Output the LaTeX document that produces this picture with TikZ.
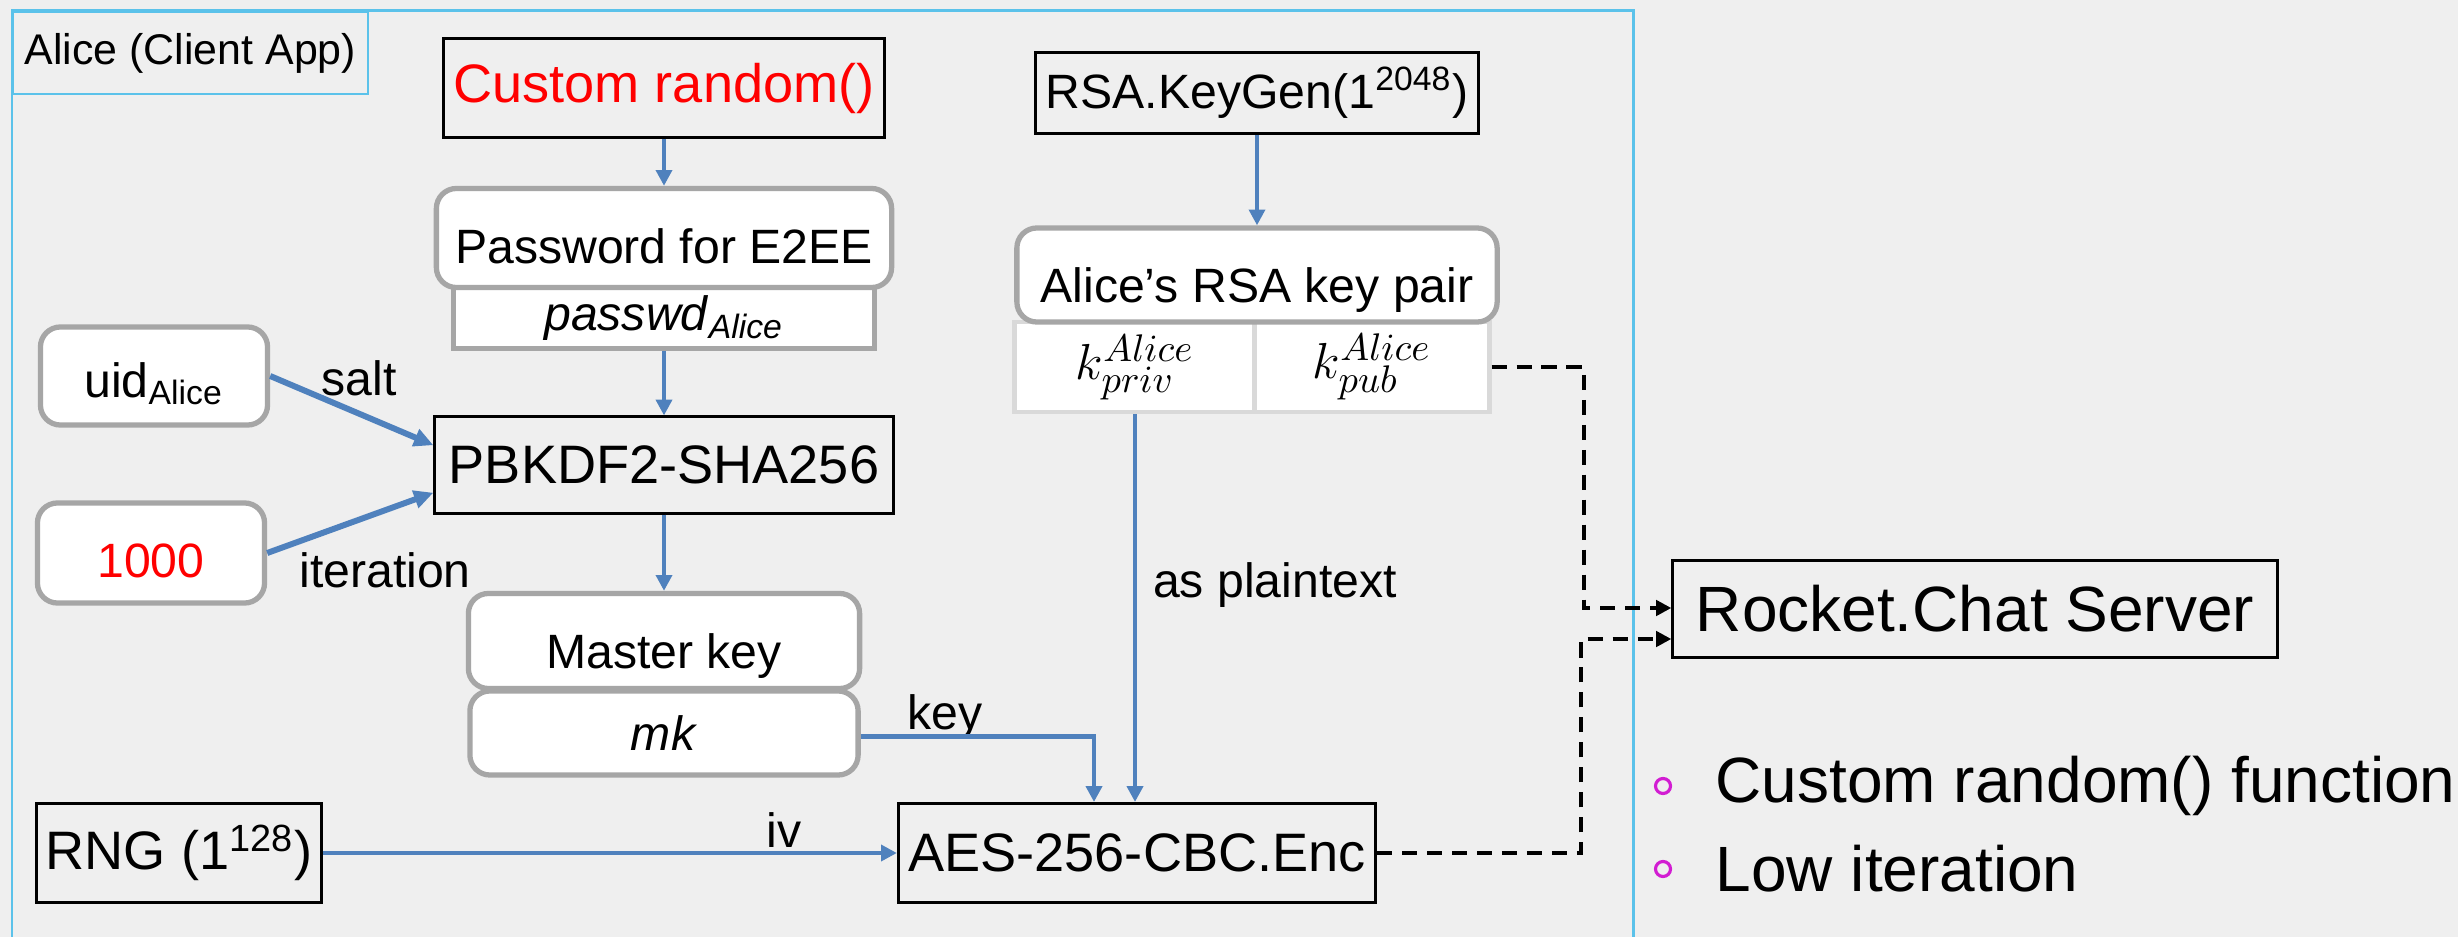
\documentclass[tikz,border=0pt]{standalone}
\usepackage{fontspec}
\setmainfont{Liberation Sans}
\usetikzlibrary{positioning,calc,arrows.meta}
\definecolor{Paper}{HTML}{EFEFEF}
\definecolor{Sky}{HTML}{5BC2EA}
\definecolor{Flow}{HTML}{4F81BD}
\definecolor{Edge}{HTML}{A6A6A6}
\definecolor{Cell}{HTML}{D9D9D9}
\definecolor{Mark}{HTML}{D21DD2}

\begin{document}
\begin{tikzpicture}[x=0.01cm,y=-0.01cm,
  big/.style={font=\fontsize{15.4}{18}\selectfont},
  mid/.style={font=\fontsize{13.7}{16}\selectfont},
  huge/.style={font=\fontsize{18.2}{22}\selectfont},
  fn/.style={big,draw=black,line width=0.85pt,inner sep=0pt},
  soft/.style={mid,draw=Edge,fill=white,line width=1.5pt,rounded corners=0.2cm,inner sep=0pt},
  low/.style={text height=#1,text depth=0.1cm},
  slot/.style={mid,draw=Edge,fill=white,line width=1.4pt,inner sep=0pt},
  cellbox/.style={draw=Cell,fill=white,line width=1.4pt,inner sep=0pt,font=\fontsize{15.5}{18}\selectfont},
  flow/.style={Flow,line width=1.15pt,-{Triangle[length=4.5pt,width=4.5pt]}},
  heavy/.style={Flow,line width=1.7pt,-{Triangle[length=5.5pt,width=5pt]}},
  net/.style={black,line width=1.15pt,dash pattern=on 4.3pt off 2.8pt,-{Triangle[length=4.3pt,width=4.3pt]}},
  tag/.style={mid,inner sep=0pt},
  ring/.style={circle,draw=Mark,line width=0.9pt,minimum size=0.15cm,inner sep=0pt},
  point/.style={huge,inner sep=0pt,anchor=west}]
\fill[Paper] (0,0) rectangle (2458,937);
\useasboundingbox (0,0) rectangle (2458,937);
\draw[Sky,line width=0.85pt] (12,11) rectangle (1633,960);
\node[draw=Sky,line width=0.6pt,minimum width=3.53cm,minimum height=0.82cm,anchor=north west,
  font=\fontsize{12.2}{14}\selectfont] (client) at (12,11) {Alice (Client App)};

\node[fn,minimum width=4.41cm,minimum height=0.99cm,text=red] (rand) at (664,88) {Custom random()};
\node[slot,minimum width=4.2cm,minimum height=0.61cm] (passwd) at (664,318)
  {\textit{passwd}\textsubscript{\textit{Alice}}};
\node[soft,low=0.6cm,minimum width=4.55cm,minimum height=0.99cm] (pwd) at (664,238) {Password for E2EE};
\node[soft,low=0.52cm,minimum width=2.27cm,minimum height=0.98cm] (uid) at (154,376) {uid\textsubscript{Alice}};
\node[fn,minimum width=4.58cm,minimum height=0.96cm] (pbk) at (664,465) {PBKDF2-SHA256};
\node[soft,low=0.58cm,minimum width=2.27cm,minimum height=1cm,text=red] (thousand) at (151,553) {1000};
\node[soft,minimum width=3.88cm,minimum height=0.84cm] (mk) at (664,733) {\textit{mk}};
\node[soft,low=0.64cm,minimum width=3.91cm,minimum height=0.95cm] (mkey) at (664,641) {Master key};
\node[fn,minimum width=2.84cm,minimum height=0.99cm] (rng) at (179,853) {RNG (1\textsuperscript{128})};
\node[fn,minimum width=4.77cm,minimum height=0.99cm] (aes) at (1137,853) {AES-256-CBC.Enc};

\node[fn,mid,minimum width=4.42cm,minimum height=0.81cm] (keygen) at (1257,93) {RSA.KeyGen(1\textsuperscript{2048})};
\node[cellbox,minimum width=2.4cm,minimum height=0.9cm] (priv) at (1135,367) {$k^{Alice}_{priv}$};
\node[cellbox,minimum width=2.34cm,minimum height=0.9cm] (pub) at (1372,367) {$k^{Alice}_{pub}$};
\node[soft,low=0.64cm,minimum width=4.8cm,minimum height=0.94cm] (pair) at (1257,275) {Alice's RSA key pair};

\node[fn,huge,minimum width=6.04cm,minimum height=0.96cm] (server) at (1975,609) {Rocket.Chat Server};

\node[tag] (salt) at (359,378) {salt};
\node[tag] (iter) at (385,570) {iteration};
\node[tag] (keytag) at (945,717) {key};
\node[tag] (ivtag) at (784,830) {iv};
\node[tag] (plain) at (1275,585) {as plaintext};

\draw[flow] (rand.south) -- (pwd.north);
\draw[flow] (passwd.south) -- (pbk.north);
\draw[heavy] (uid.east) -- ($(pbk.north west)!0.3!(pbk.south west)$);
\draw[heavy] (thousand.east) -- ($(pbk.north west)!0.78!(pbk.south west)$);
\draw[flow] (pbk.south) -- (mkey.north);
\draw[flow] (keygen.south) -- (pair.north);
\draw[flow] ([yshift=-1pt]mk.east) -| ($(aes.north)+(-43,0)$);
\draw[flow] (priv.south) -- (priv.south |- aes.north);
\draw[flow] (rng.east) -- (aes.west);
\draw[net] (pub.east) -- ++(92,0) |- ($(server.west)+(0,-1)$);
\draw[net] (aes.east) -- ++(204,0) |- ($(server.west)+(0,30)$);

\node[ring] (r1) at (1663,786) {};
\node[point] (p1) at (1715,786) {Custom random() function};
\node[ring] (r2) at (1663,869) {};
\node[point] (p2) at (1715,869) {Low iteration};
\end{tikzpicture}
\end{document}
